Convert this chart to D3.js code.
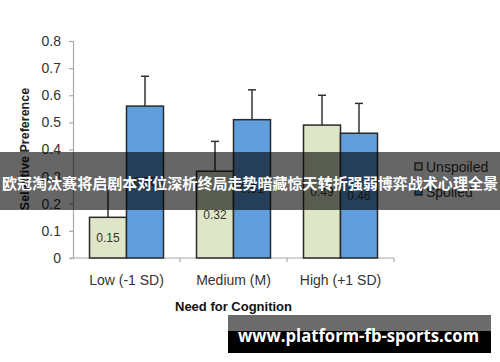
<!DOCTYPE html>
<html>
<head>
<meta charset="utf-8">
<script src="https://cdn.jsdelivr.net/npm/d3@7"></script>
<style>
  body { margin: 0; background: #fff; }
  svg { display: block; font-family: "Liberation Sans", Arial, sans-serif; }
</style>
</head>
<body>
<div id="chart"></div>
<script>
const categories = ["Low (-1 SD)", "Medium (M)", "High (+1 SD)"];
const seriesNames = ["Unspoiled", "Spoiled"];
const unspoiled = [0.15, 0.32, 0.49];
const spoiled = [0.56, 0.51, 0.46];
const unspoiledErr = [0.11, 0.11, 0.11];
const spoiledErr = [0.11, 0.11, 0.11];
const yTicks = [0, 0.1, 0.2, 0.3, 0.4, 0.5, 0.6, 0.7, 0.8];
const bannerText = "欧冠淘汰赛将启剧本对位深析终局走势暗藏惊天转折强弱博弈战术心理全景";
const watermark = "www.platform-fb-sports.com";

const width = 500, height = 362;
const colors = {Unspoiled: "#dfe6c7", Spoiled: "#5f9ddb"};

const data = categories.map((c, i) => ({
  cat: c,
  vals: [
    {s: "Unspoiled", v: unspoiled[i], e: unspoiledErr[i]},
    {s: "Spoiled", v: spoiled[i], e: spoiledErr[i]}
  ]
}));

const svg = d3.select("#chart").append("svg")
  .attr("width", width)
  .attr("height", height);

const x0 = d3.scaleBand().domain(categories).range([73, 394]).padding(0);
const x1 = d3.scaleBand().domain(seriesNames).range([0, x0.bandwidth()]).paddingInner(0).paddingOuter(0.446);
const y = d3.scaleLinear().domain([0, 0.8]).range([258, 41]);

// y axis
const yAxis = svg.append("g")
  .attr("transform", "translate(73,0)")
  .call(d3.axisLeft(y).tickValues(yTicks).tickFormat(d => d === 0 ? "0" : d3.format(".1f")(d)).tickSizeOuter(0).tickSize(4).tickPadding(8));
yAxis.select(".domain").attr("stroke", "#aaa").attr("stroke-width", 1.2);
yAxis.selectAll(".tick line").attr("stroke", "#aaa").attr("stroke-width", 1.2);
yAxis.selectAll(".tick text").attr("fill", "#333").style("font-size", "14px")
  .style("font-family", "'Liberation Sans', Arial, sans-serif");

// x axis
const xAxisG = svg.append("g").attr("transform", "translate(0,258)");
xAxisG.append("line").attr("x1", 70).attr("x2", 394).attr("y1", 0).attr("y2", 0)
  .attr("stroke", "#aaa").attr("stroke-width", 1.2);
xAxisG.selectAll("line.tk")
  .data(categories)
  .enter().append("line")
  .attr("class", "tk")
  .attr("x1", d => x0(d) + x0.bandwidth())
  .attr("x2", d => x0(d) + x0.bandwidth())
  .attr("y1", 0).attr("y2", 4)
  .attr("stroke", "#aaa").attr("stroke-width", 1.2);
xAxisG.selectAll("text")
  .data(categories)
  .enter().append("text")
  .attr("x", d => x0(d) + x0.bandwidth() / 2)
  .attr("y", 27)
  .attr("text-anchor", "middle")
  .attr("fill", "#333")
  .style("font-size", "14px")
  .text(d => d);

// bars
const groups = svg.selectAll("g.grp")
  .data(data)
  .enter().append("g")
  .attr("class", "grp")
  .attr("transform", d => `translate(${x0(d.cat)},0)`);

groups.selectAll("line.err")
  .data(d => d.vals)
  .enter().append("line")
  .attr("class", "err")
  .attr("x1", d => x1(d.s) + x1.bandwidth() / 2)
  .attr("x2", d => x1(d.s) + x1.bandwidth() / 2)
  .attr("y1", d => y(d.v))
  .attr("y2", d => y(d.v + d.e))
  .attr("stroke", "#333").attr("stroke-width", 1.5);

groups.selectAll("line.cap")
  .data(d => d.vals)
  .enter().append("line")
  .attr("class", "cap")
  .attr("x1", d => x1(d.s) + x1.bandwidth() / 2 - 4)
  .attr("x2", d => x1(d.s) + x1.bandwidth() / 2 + 4)
  .attr("y1", d => y(d.v + d.e))
  .attr("y2", d => y(d.v + d.e))
  .attr("stroke", "#333").attr("stroke-width", 1.5);

groups.selectAll("rect")
  .data(d => d.vals)
  .enter().append("rect")
  .attr("x", d => x1(d.s))
  .attr("y", d => y(d.v))
  .attr("width", x1.bandwidth())
  .attr("height", d => y(0) - y(d.v))
  .attr("fill", d => colors[d.s])
  .attr("stroke", "#2a2a2a")
  .attr("stroke-width", 1.5);

groups.selectAll("text.val")
  .data(d => d.vals)
  .enter().append("text")
  .attr("class", "val")
  .attr("x", d => x1(d.s) + x1.bandwidth() / 2)
  .attr("y", d => (y(d.v) + y(0)) / 2 + 4)
  .attr("text-anchor", "middle")
  .attr("fill", "#333")
  .style("font-size", "12px")
  .text(d => d.v.toFixed(2));

// axis titles
svg.append("text")
  .attr("x", 233.5).attr("y", 311)
  .attr("text-anchor", "middle")
  .attr("fill", "#111")
  .style("font-size", "13px").style("font-weight", "bold")
  .text("Need for Cognition");

svg.append("text")
  .attr("transform", "translate(29,149) rotate(-90)")
  .attr("text-anchor", "middle")
  .attr("fill", "#222")
  .style("font-size", "12.5px").style("font-weight", "bold")
  .text("Selective Preference");

// legend
const legend = svg.selectAll("g.leg")
  .data(seriesNames)
  .enter().append("g")
  .attr("class", "leg")
  .attr("transform", (d, i) => `translate(415,${167 + i * 25})`);
legend.append("rect")
  .attr("x", 0).attr("y", -4).attr("width", 7).attr("height", 7)
  .attr("fill", d => colors[d]).attr("stroke", "#222").attr("stroke-width", 1.2);
legend.append("text")
  .attr("x", 11).attr("y", 5)
  .attr("fill", "#333")
  .style("font-size", "14px")
  .text(d => d);

// banner overlay
svg.append("rect")
  .attr("x", 0).attr("y", 152).attr("width", width).attr("height", 58)
  .attr("fill", "#000").attr("fill-opacity", 0.6);
svg.append("text")
  .attr("x", 250).attr("y", 189)
  .attr("text-anchor", "middle")
  .attr("fill", "#fff")
  .style("font-family", "'Noto Sans CJK SC', sans-serif")
  .style("font-size", "15px").style("font-weight", "bold")
  .attr("textLength", 496).attr("lengthAdjust", "spacingAndGlyphs")
  .text(bannerText);

// watermark
svg.append("rect")
  .attr("x", 228).attr("y", 315).attr("width", 263).attr("height", 16)
  .attr("fill", "#6b6b6b");
svg.append("rect")
  .attr("x", 228).attr("y", 331).attr("width", 263).attr("height", 22)
  .attr("fill", "#000");
svg.append("text")
  .attr("x", 358.5).attr("y", 342)
  .attr("text-anchor", "middle")
  .attr("fill", "#fff")
  .style("font-family", "'Open Sans', 'DejaVu Sans', sans-serif")
  .style("font-size", "17px").style("font-weight", "bold")
  .attr("textLength", 241).attr("lengthAdjust", "spacingAndGlyphs")
  .text(watermark);
</script>
</body>
</html>
